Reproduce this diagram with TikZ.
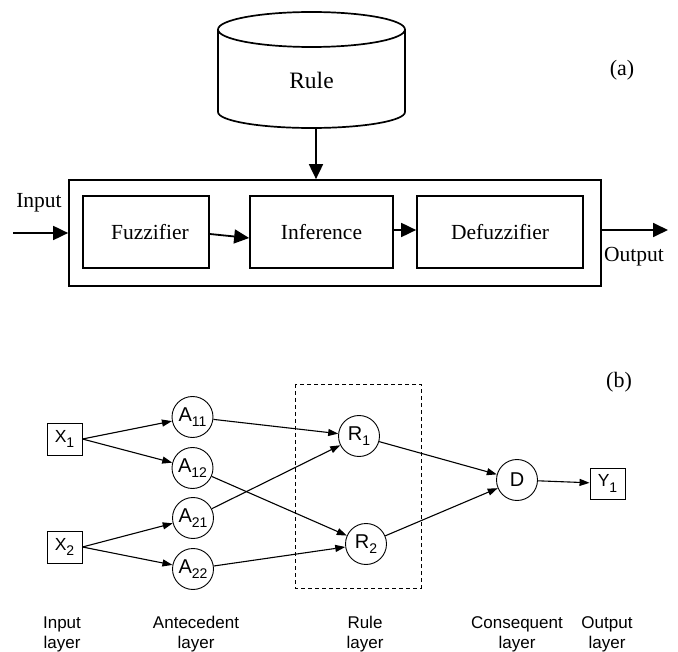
\documentclass[tikz,border=0pt]{standalone}
\usepackage{fontspec}
\setmainfont{Liberation Serif}
\newfontfamily\arialf{Liberation Sans}
\usetikzlibrary{arrows.meta}
\newcommand\subsc[1]{\raisebox{-5.5pt}{\fontsize{14}{14}\selectfont #1}}
\begin{document}
\begin{tikzpicture}[x=1pt,y=-1pt,
  stagebox/.style={draw, line width=1.7pt, minimum height=72pt, inner sep=0pt, font=\fontsize{21.5}{24}\selectfont},
  bigarrow/.style={line width=1.8pt, -{Triangle[length=15pt,width=14pt]}},
  tlabel/.style={font=\fontsize{21.5}{24}\selectfont, inner sep=0pt},
  cyl/.style={line width=1.7pt},
  neuron/.style={draw, circle, line width=0.9pt, minimum size=41pt, inner sep=0pt, font=\arialf\fontsize{20}{20}\selectfont},
  sqnode/.style={draw, rectangle, line width=0.9pt, minimum width=35pt, minimum height=32pt, inner sep=0pt, font=\arialf\fontsize{17.5}{17.5}\selectfont},
  link/.style={line width=1.1pt, -{Triangle[length=10pt,width=7pt]}},
  layerlabel/.style={align=center, font=\arialf\fontsize{17}{19.5}\selectfont, inner sep=0pt, anchor=base}
]
\useasboundingbox (0,0) rectangle (678,652);

% ---------- (a) ----------
\draw[cyl] (218,29.5) -- (218,112) arc[start angle=180,end angle=360,x radius=93.5pt,y radius=16pt] -- (405,29.5);
\draw[cyl] (311.5,29.5) ellipse[x radius=93.5pt, y radius=17.5pt];
\node[tlabel, font=\fontsize{23.5}{24}\selectfont] (rule) at (311.5,80) {Rule};
\coordinate (cylbot) at (316,128);

\node[draw, line width=1.7pt, minimum width=532pt, minimum height=106pt, inner sep=0pt] (outer) at (335,233) {};
\node[stagebox, minimum width=126pt] (fuzz) at (146,232) {\hspace*{8pt}Fuzzifier};
\node[stagebox, minimum width=143pt] (inf) at (321.5,232) {Inference};
\node[stagebox, minimum width=166pt] (defuzz) at (500,232) {Defuzzifier};

\draw[bigarrow] (cylbot) -- (cylbot |- outer.north);
\coordinate (inp) at (13,233);
\coordinate (outp) at (668,230);
\draw[bigarrow] (inp) -- (outer.west);
\draw[bigarrow] ([yshift=3pt]outer.east) -- (outp);
\draw[bigarrow] ([yshift=-2pt]fuzz.east) -- ([yshift=-6pt]inf.west);
\draw[bigarrow] ([yshift=2pt]inf.east) -- ([yshift=2pt]defuzz.west);

\node[tlabel] (inlbl) at (39,203) {Input};
\node[tlabel] (outlbl) at (634,257) {Output};
\node[tlabel, font=\fontsize{22}{24}\selectfont] (alabel) at (622,70) {(a)};

% ---------- (b) ----------
\node[tlabel, font=\fontsize{22}{24}\selectfont] (blabel) at (619,382) {(b)};
\draw[dashed, line width=0.9pt, dash pattern=on 4pt off 3pt] (295,384) rectangle (421,588);

\node[sqnode] (X1) at (64.5,439) {X\subsc{1}};
\node[sqnode] (X2) at (64.5,547) {X\subsc{2}};
\node[neuron] (A11) at (192.5,417) {A\subsc{11}};
\node[neuron] (A12) at (192.5,468) {A\subsc{12}};
\node[neuron] (A21) at (193,518) {A\subsc{21}};
\node[neuron] (A22) at (193,569) {A\subsc{22}};
\node[neuron] (R1) at (359,436) {R\subsc{1}};
\node[neuron] (R2) at (366,544) {R\subsc{2}};
\node[neuron] (D) at (517,480) {D};
\node[sqnode, minimum height=31pt] (Y1) at (607.5,483.5) {Y\subsc{1}};

\draw[link] (X1.east) -- (A11);
\draw[link] (X1.east) -- (A12);
\draw[link] (X2.east) -- (A21);
\draw[link] (X2.east) -- (A22);
\draw[link] (A11) -- (R1);
\draw[link] (A21) -- (R1);
\draw[link] (A12) -- (R2);
\draw[link] (A22) -- (R2);
\draw[link] (R1) -- (D);
\draw[link] (R2) -- (D);
\draw[link] (D) -- (Y1);

\node[layerlabel] (L1) at (62,648) {Input\\layer};
\node[layerlabel] (L2) at (196,648) {Antecedent\\layer};
\node[layerlabel] (L3) at (365,648) {Rule\\layer};
\node[layerlabel] (L4) at (517,648) {Consequent\\layer};
\node[layerlabel] (L5) at (607,648) {Output\\layer};
\end{tikzpicture}
\end{document}
